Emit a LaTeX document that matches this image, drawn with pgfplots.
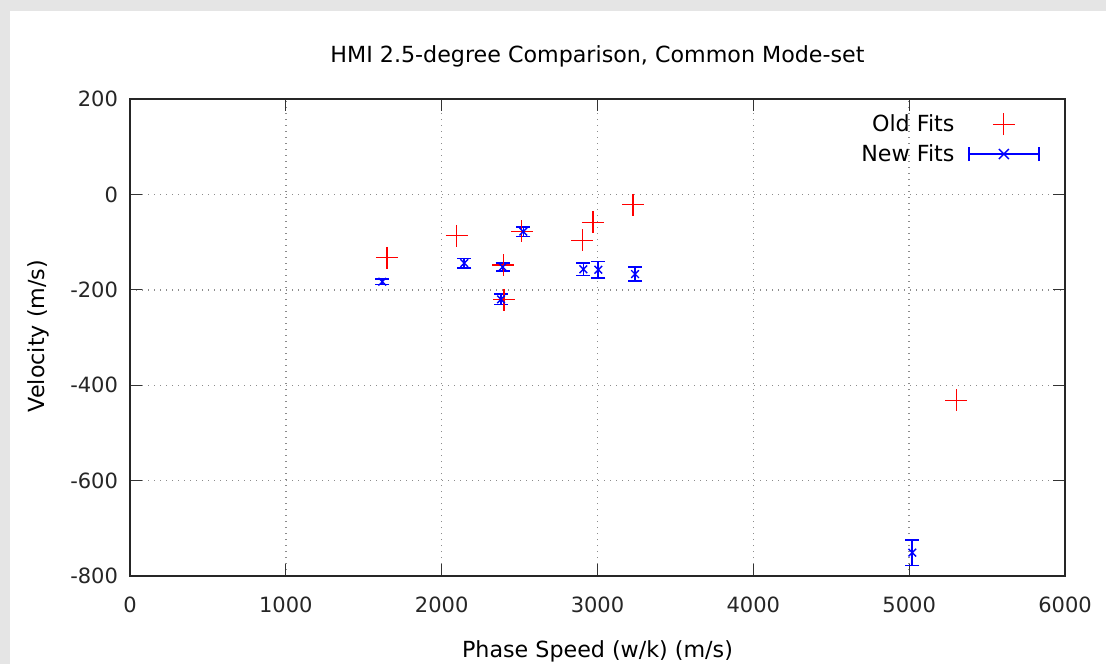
\documentclass[border=0pt]{standalone}
\usepackage{fontspec}
\setmainfont{DejaVu Sans}
\usepackage{pgfplots}
\pgfplotsset{compat=1.18}
\definecolor{bggray}{HTML}{E5E5E5}
\newcommand\ff{\fontsize{10.5}{12}\selectfont}
\newcommand\fl{\fontsize{11.1}{13}\selectfont}
\begin{document}
\begin{tikzpicture}[x=1pt,y=1pt]
\useasboundingbox (0,0) rectangle (553,332);
\fill[bggray] (0,0) rectangle (553,332);
\fill[white] (5,0) rectangle (553,326.5);
\begin{axis}[
  at={(65pt,44pt)}, anchor=south west,
  scale only axis, width=467.5pt, height=238.5pt,
  xmin=0, xmax=6000, ymin=-800, ymax=200,
  xtick={0,1000,...,6000}, ytick={-800,-600,...,200},
  scaled x ticks=false,
  /pgf/number format/assume math mode=true,
  /pgf/number format/1000 sep={},
  tick label style={font=\ff, black!85},
  xticklabel style={yshift=-7pt},
  yticklabel style={xshift=-2.5pt},
  tick align=inside, major tick length=6pt,
  tick style={black!80, line width=0.6pt},
  axis line style={black!85, line width=0.7pt},
  grid=major,
  grid style={gray!90, line width=0.7pt, dash pattern=on 0.7pt off 2.3pt},
  xlabel={Phase Speed (w/k) (m/s)},
  ylabel={Velocity (m/s)},
  xlabel style={font=\fl, at={(axis description cs:0.5,-0.159)}, anchor=center},
  ylabel style={font=\fl, at={(axis description cs:-0.0985,0.503)}, anchor=center},
  legend style={draw=none, fill=none, at={(rel axis cs:0.9733,0.973)}, anchor=north east,
    font=\fl, inner sep=0pt, row sep=3pt,
    nodes={inner sep=1pt}},
  legend cell align=right,
  legend plot pos=right,
]
\addplot[only marks, mark=+, red, mark size=5.5pt, mark options={line width=0.55pt},
  legend image code/.code={
    \path (0pt,0pt);
    \draw[red, line width=0.55pt] (18pt,0pt) -- (29pt,0pt);
    \draw[red, line width=0.55pt] (23.5pt,-5.5pt) -- (23.5pt,5.5pt);}]
  coordinates {
  (1649,-133) (2098,-87) (2394,-148) (2400,-221) (2515,-77)
  (2901,-96) (2971,-58) (3228,-22) (5301,-432)
  };
\addlegendentry{Old Fits}
\addplot[only marks, mark=x, blue, mark size=2.7pt, mark options={line width=0.7pt},
  error bars/.cd, y dir=both, y explicit,
  error mark=-,
  error mark options={rotate=90, blue, mark size=3.5pt, line width=0.8pt},
  error bar style={blue, line width=0.8pt},
  /pgfplots/legend image code/.code={
    \path (0pt,0pt);
    \draw[blue, line width=0.8pt] (6pt,0pt) -- (41pt,0pt);
    \draw[blue, line width=0.8pt] (6pt,-3.5pt) -- (6pt,3.5pt);
    \draw[blue, line width=0.8pt] (41pt,-3.5pt) -- (41pt,3.5pt);
    \draw[blue, line width=0.7pt] (21pt,-2.5pt) -- (26pt,2.5pt) (21pt,2.5pt) -- (26pt,-2.5pt);}]
  coordinates {
  (1619,-183) +- (0,6)
  (2145,-144) +- (0,10)
  (2391,-152) +- (0,8)
  (2381,-220) +- (0,11)
  (2524,-78) +- (0,10)
  (2909,-157) +- (0,13)
  (3005,-158) +- (0,17)
  (3241,-167) +- (0,15)
  (5020,-751) +- (0,27)
  };
\addlegendentry{New Fits}
\end{axis}
\node[font=\fl, anchor=center] at (298.75,304) {HMI 2.5-degree Comparison, Common Mode-set};
\end{tikzpicture}
\end{document}
